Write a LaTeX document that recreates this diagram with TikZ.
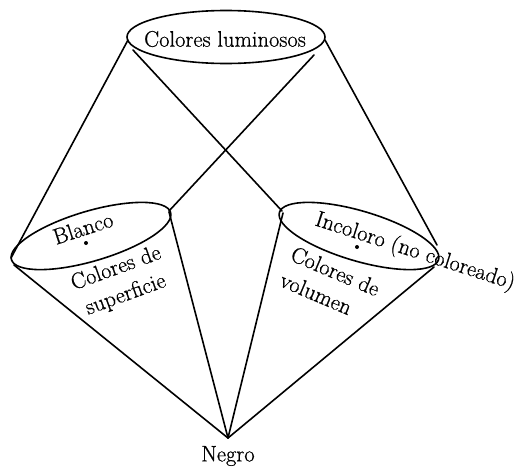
\documentclass[tikz,border=0pt]{standalone}
\usepackage{fontspec}
\setmainfont{Latin Modern Roman}[FakeBold=0.6]
\usetikzlibrary{shapes.geometric}
\begin{document}
\begin{tikzpicture}[x=1pt,y=-1pt, line width=1.6pt, line join=round, line cap=round,
  lab/.style={font=\fontsize{22.5}{28}\selectfont, inner sep=0pt},
  oval/.style={draw, ellipse, inner sep=0pt, line width=1.6pt},
  spot/.style={circle, fill=black, inner sep=0pt, minimum size=4pt}]
\useasboundingbox (0,0) rectangle (521,466);

% ellipses
\node[oval, minimum width=198pt, minimum height=53pt] (top) at (226,37) {};
\node[lab] (toplab) at (225,39) {Colores luminosos};
\draw[rotate around={16.5:(91,236)}] (91,236) ellipse [x radius=83, y radius=25];
\draw[rotate around={-16.5:(359,236)}] (359,236) ellipse [x radius=83, y radius=25];

% named points
\coordinate (TL) at (128,40);
\coordinate (TLi) at (133,50);
\coordinate (TRi) at (314,55);
\coordinate (TR) at (325,40);
\coordinate (LL) at (11,258);
\coordinate (LLb) at (14,265);
\coordinate (LR) at (169,211);
\coordinate (LR2) at (169,212);
\coordinate (RL) at (282,211);
\coordinate (RL2) at (283,213);
\coordinate (RR) at (437,245);
\coordinate (RRb) at (434,267);
\coordinate (N) at (228,438);

% connectors
\draw (TL) -- (LL);
\draw (TLi) -- (RL);
\draw (TRi) -- (LR);
\draw (TR) -- (RR);
\draw (LLb) -- (N);
\draw (LR2) -- (N);
\draw (RL2) -- (N);
\draw (RRb) -- (N);

% dots
\node[spot] (dl) at (86,243) {};
\node[spot] (dr) at (357,247) {};

% labels
\node[lab, rotate=18] (blanco) at (83,228) {Blanco};
\node[lab, rotate=20, align=center] (sup) at (121,282) {Colores de\\superficie};
\node[lab, rotate=-18] (inc) at (415,252) {Incoloro (no coloreado)};
\node[lab, rotate=-23, align=left] (vol) at (330,284) {Colores de\\volumen};
\node[lab] (negro) at (228,456) {Negro};
\end{tikzpicture}
\end{document}
